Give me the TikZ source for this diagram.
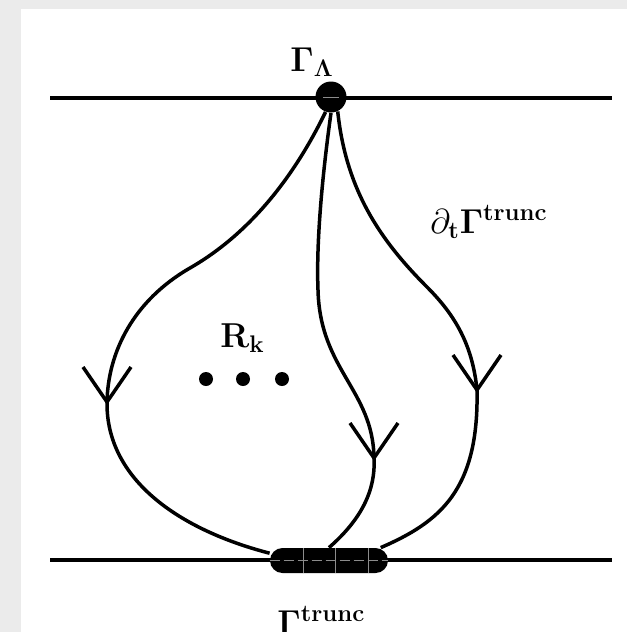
\documentclass[tikz,border=0pt]{standalone}
\usepackage{tikz}

\begin{document}
\begin{tikzpicture}[x=0.5pt, y=-0.5pt,
  rail/.style={line width=2pt},
  flow/.style={line width=1.75pt},
  barb/.style={line width=1.75pt, line join=miter},
  seam/.style={black!45, line width=0.4pt},
  lab/.style={inner sep=0pt, font=\fontsize{18}{22}\selectfont}]
\useasboundingbox (0,0) rectangle (627,632);
\fill[black!8] (0,0) rectangle (627,632);
\fill[white] (21,9) rectangle (627,632);
\draw[rail] (50,98) -- (612,98);
\draw[rail] (50,560) -- (612,560);
\node[circle, fill=black, minimum size=15.5pt, inner sep=0pt] (vertex) at (331,97) {};
\node[rectangle, fill=black, minimum width=59pt, minimum height=12.5pt, rounded corners=6.25pt, inner sep=0pt] (blob) at (329,560.5) {};
\coordinate (tipL) at (107,402);
\coordinate (tipM) at (374,458);
\coordinate (tipR) at (477,390);
% the three lines from the vertex down to the blob
\draw[flow] (vertex.250) .. controls (295,175) and (251,233) .. (190,268)
  .. controls (133.5,300.5) and (108,352) .. (tipL)
  .. controls (106,480) and (180,530) .. (blob.173);
\draw[flow] (vertex.270) .. controls (323,170) and (316,240) .. (318,290)
  .. controls (320,370) and (373,390) .. (tipM)
  .. controls (376,495) and (356.5,523.5) .. (blob.north);
\draw[flow] (vertex.295) .. controls (346,190) and (380,240) .. (427,287)
  .. controls (455.3,315.3) and (472.5,345) .. (tipR)
  .. controls (479,490) and (440,522) .. (blob.14);
\draw[barb] (tipL) ++(-24,-35) -- (tipL) -- ++(24,-35);
\draw[barb] (tipM) ++(-24,-35) -- (tipM) -- ++(24,-35);
\draw[barb] (tipR) ++(-24,-35) -- (tipR) -- ++(24,-35);
% faint seams in the blob
\draw[seam, dash pattern=on 5pt off 2pt] (blob.west) -- (blob.east);
\draw[seam] (303,548) -- (303,573);
\draw[seam] (335,548) -- (335,573);
\draw[seam] (368,548) -- (368,573);
\draw[seam] (323,97) -- (339,97);
\fill (206,379) circle (7);
\fill (243,379) circle (7);
\fill (282,379) circle (7);
\node[lab, anchor=base west] (gamLam) at (290,71) {$\mathbf{\Gamma_\Lambda}$};
\node[lab, anchor=base west] (reg) at (220,347) {$\mathbf{R_k}$};
\node[lab, anchor=base west] (flowlab) at (430,233) {$\partial_{\mathbf t}\mathbf{\Gamma^{trunc}}$};
\node[lab, anchor=base west] (gamTr) at (277,634) {$\mathbf{\Gamma^{trunc}}$};
\end{tikzpicture}
\end{document}
